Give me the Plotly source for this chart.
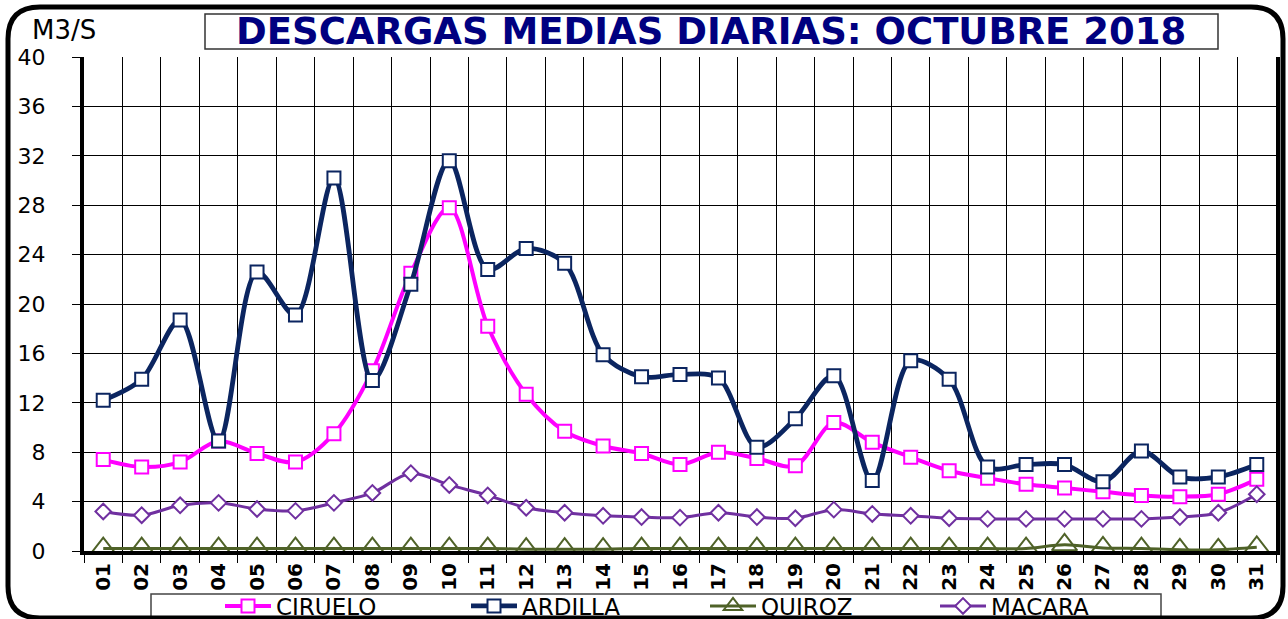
import plotly.graph_objects as go

days = [f"{d:02d}" for d in range(1, 32)]

ciruelo = [7.4, 6.8, 7.2, 8.9, 7.9, 7.2, 9.5, 14.6, 22.5, 27.8, 18.2, 12.7, 9.7, 8.5, 7.9,
           7.0, 8.0, 7.5, 6.9, 10.4, 8.8, 7.6, 6.5, 5.9, 5.4, 5.1, 4.8, 4.5, 4.4, 4.6, 5.8]
ardilla = [12.2, 13.9, 18.7, 8.9, 22.6, 19.1, 30.2, 13.8, 21.6, 31.6, 22.8, 24.5, 23.3, 15.9, 14.1,
           14.3, 14.0, 8.4, 10.7, 14.2, 5.7, 15.4, 13.9, 6.8, 7.0, 7.0, 5.6, 8.1, 6.0, 6.0, 7.0]
quiroz = [0.2, 0.2, 0.2, 0.2, 0.2, 0.2, 0.2, 0.2, 0.2, 0.2, 0.2, 0.15, 0.15, 0.15, 0.2,
          0.2, 0.2, 0.2, 0.2, 0.2, 0.2, 0.2, 0.2, 0.2, 0.2, 0.5, 0.25, 0.2, 0.1, 0.1, 0.3]
macara = [3.2, 2.9, 3.7, 3.9, 3.4, 3.25, 3.9, 4.7, 6.3, 5.35, 4.5, 3.5, 3.1, 2.85, 2.75,
          2.7, 3.1, 2.75, 2.65, 3.35, 3.0, 2.85, 2.65, 2.6, 2.6, 2.6, 2.6, 2.6, 2.75, 3.1, 4.6]

# name, values, color, symbol, line width, marker size, legend id, legend symbol centre (px)
series = [
    ("CIRUELO", ciruelo, "#FF00FF", "square", 4, 13, "legend", 240),
    ("ARDILLA", ardilla, "#0B2560", "square", 4.8, 13, "legend2", 486),
    ("QUIROZ", quiroz, "#4F6228", "triangle-up-open", 3, 22, "legend3", 725),
    ("MACARA", macara, "#7030A0", "diamond", 3, 12, "legend4", 955),
]

FONT = "DejaVu Sans"
W, H = 1288, 619
L, R, T, B = 84, 1276, 57, 551


def px2paper(x, y):
    return (x - L) / (R - L), (B - y) / (B - T)


fig = go.Figure()
legends = {}
for name, vals, color, sym, lw, ms, leg, lcenter in series:
    fig.add_trace(go.Scatter(
        x=days, y=vals, name=name, mode="lines+markers", legend=leg,
        line=dict(color=color, width=lw, shape="spline", smoothing=0.9),
        marker=dict(symbol=sym, size=ms,
                    color=("white" if "open" not in sym else color),
                    line=dict(color=color, width=2)),
    ))
    lx, ly = px2paper(lcenter - 20, 606)
    legends[leg] = dict(x=lx, y=ly, xanchor="left", yanchor="middle",
                        orientation="h", bgcolor="rgba(0,0,0,0)", borderwidth=0,
                        itemwidth=46,
                        font=dict(family=FONT, size=23, color="black"))


def P(x, y):
    a, b = px2paper(x, y)
    return f"{a:.5f},{b:.5f}"


# outer rounded border
x0, y0, x1, y1, r = 8, 7, 1283, 618, 32
path = (f"M {P(x0 + r, y0)} L {P(x1 - r, y0)} Q {P(x1, y0)} {P(x1, y0 + r)} "
        f"L {P(x1, y1 - r)} Q {P(x1, y1)} {P(x1 - r, y1)} "
        f"L {P(x0 + r, y1)} Q {P(x0, y1)} {P(x0, y1 - r)} "
        f"L {P(x0, y0 + r)} Q {P(x0, y0)} {P(x0 + r, y0)} Z")
fig.add_shape(type="path", path=path, xref="paper", yref="paper",
              line=dict(color="black", width=5), layer="above")

# legend box
ax0, ay0 = px2paper(151, 617)
ax1, ay1 = px2paper(1161, 594)
fig.add_shape(type="rect", xref="paper", yref="paper", x0=ax0, y0=ay0, x1=ax1, y1=ay1,
              line=dict(color="#444444", width=1.5), fillcolor="white", layer="below")

# title box
bx0, by0 = px2paper(205, 49)
bx1, by1 = px2paper(1218, 14)
fig.add_shape(type="rect", xref="paper", yref="paper", x0=bx0, y0=by0, x1=bx1, y1=by1,
              line=dict(color="#333333", width=1.5), fillcolor="white")
tx, ty = px2paper(711, 32)
fig.add_annotation(text="<b>DESCARGAS MEDIAS DIARIAS: OCTUBRE 2018</b>", xref="paper", yref="paper",
                   x=tx, y=ty, showarrow=False, xanchor="center", yanchor="middle",
                   font=dict(family=FONT, size=37, color="#000080"))
ux, uy = px2paper(30, 30)
fig.add_annotation(text="M3/S", xref="paper", yref="paper", x=ux, y=uy, showarrow=False,
                   xanchor="left", yanchor="middle", font=dict(family=FONT, size=26, color="black"))

fig.update_layout(
    width=W, height=H,
    margin=dict(l=L, r=W - R, t=T, b=H - B, autoexpand=False),
    paper_bgcolor="white", plot_bgcolor="white",
    showlegend=True,
    xaxis=dict(type="category", tickson="boundaries", ticks="outside", ticklen=8,
               tickcolor="black", showgrid=True, gridcolor="black", gridwidth=1,
               showline=True, linecolor="black", linewidth=4, tickangle=-90,
               tickfont=dict(family=FONT, size=20, color="black", weight="bold"),
               layer="below traces", range=[-0.5, 30.5], fixedrange=True),
    yaxis=dict(range=[0, 40], dtick=4, tick0=0, ticks="outside", ticklen=8, tickcolor="black",
               showgrid=True, gridcolor="black", gridwidth=1,
               showline=True, linecolor="black", linewidth=4, mirror=True,
               zeroline=False, ticklabelstandoff=22,
               tickfont=dict(family=FONT, size=22, color="black"),
               layer="below traces"),
    **legends,
)

fig.write_html("out.html", config={"displayModeBar": False},
               post_script="document.body.style.margin='0';document.body.style.overflow='hidden';")
